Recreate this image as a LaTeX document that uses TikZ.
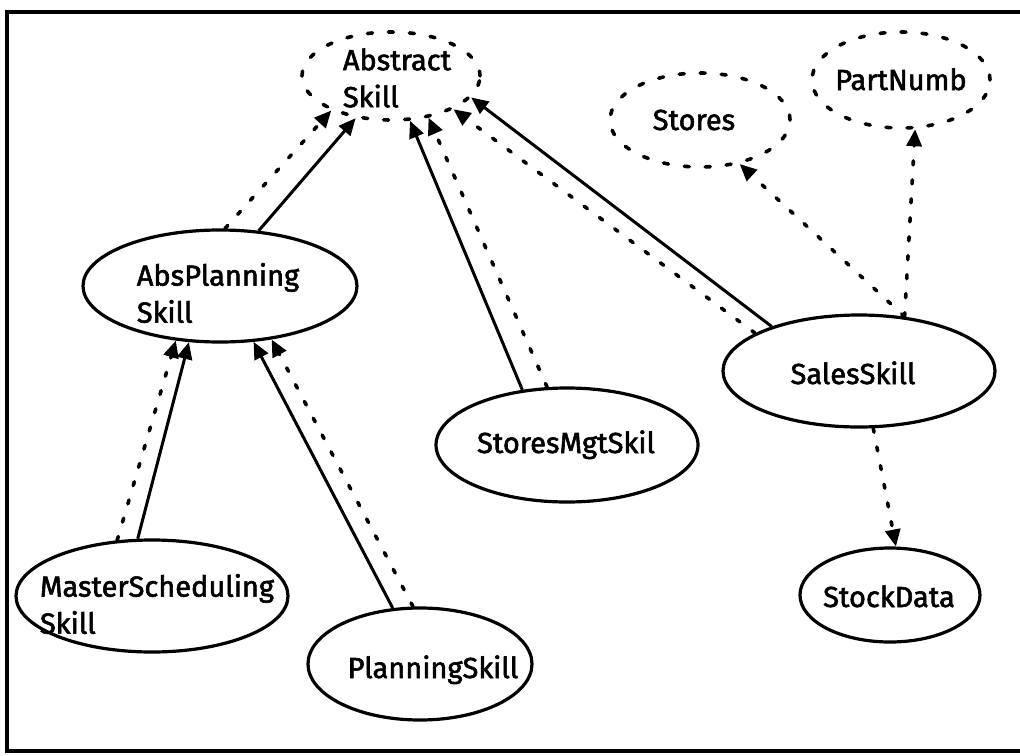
\documentclass[tikz,border=0pt]{standalone}
\usepackage{fontspec}
\setmainfont[FakeBold=2]{Fira Sans}
\usetikzlibrary{shapes.geometric,arrows.meta}
\begin{document}
\begin{tikzpicture}[x=1pt,y=-1pt,
  oval/.style n args={2}{ellipse, draw, line width=3.2pt, inner sep=0pt,
    minimum width=#1pt, minimum height=#2pt},
  dashoval/.style n args={2}{oval={#1}{#2}, dash pattern=on 5pt off 16pt, line cap=round, line width=3.6pt},
  lbl/.style={font=\fontsize{29}{37}\selectfont, inner sep=0pt, align=left},
  tip/.tip={Triangle[length=17pt,width=15pt]},
  inh/.style={line width=3pt, -tip},
  dep/.style={line width=3.6pt, dash pattern=on 4pt off 15pt, line cap=round, -tip},
]
\useasboundingbox (0,0) rectangle (1020,755);
% frame: left, top and bottom edges
\draw[line width=3.2pt] (1020,12) -- (7,12) -- (7,751) -- (1020,751);

% abstract classes (dashed)
\node[dashoval={178}{88}] (abs) at (391,76) {};
\node[lbl] (abs-t) at (397,78) {Abstract\\Skill};
\node[dashoval={180}{94}] (stores) at (700,120) {};
\node[lbl, anchor=base] (stores-t) at (694,130) {Stores};
\node[dashoval={178}{96}] (part) at (901,80) {};
\node[lbl, anchor=base] (part-t) at (901,90) {PartNumb};

% concrete skills
\node[oval={274}{112}] (absplan) at (220,286) {};
\node[lbl] (absplan-t) at (218,293) {AbsPlanning\\Skill};
\node[oval={272}{112}] (master) at (152,596) {};
\node[lbl] (master-t) at (157,604) {MasterScheduling\\Skill};
\node[oval={224}{112}] (plan) at (420,664) {};
\node[lbl, anchor=base] (plan-t) at (433,678) {PlanningSkill};
\node[oval={262}{114}] (mgt) at (567,445) {};
\node[lbl, anchor=base] (mgt-t) at (566,453) {StoresMgtSkil};
\node[oval={272}{112}] (sales) at (859,371) {};
\node[lbl, anchor=base] (sales-t) at (853,384) {SalesSkill};
\node[oval={180}{94}] (stock) at (890,595) {};
\node[lbl, anchor=base] (stock-t) at (889,607) {StockData};

% inheritance (solid) and dependency (dotted) links
\draw[dep] (absplan.85) -- (abs.210);
\draw[inh] (absplan.55) -- (abs.230);
\draw[inh] (mgt.129) -- (abs.293);
\draw[dep] (mgt.109) -- (abs.312);
\draw[inh] (sales.153) -- (abs.345);
\draw[dep] (sales.160) -- (abs.332);

\coordinate (s-top) at (sales.50);
\draw[dep] (s-top) -- (stores.312);
\draw[dep] (s-top) -- (part.286);
\draw[dep] (sales.284) -- (stock.83);

\draw[dep] (master.122) -- (absplan.231);
\draw[inh] (master.104) -- (absplan.241);
\draw[inh] (plan.116) -- (absplan.301);
\draw[dep] (plan.97) -- (absplan.314);
\end{tikzpicture}
\end{document}
